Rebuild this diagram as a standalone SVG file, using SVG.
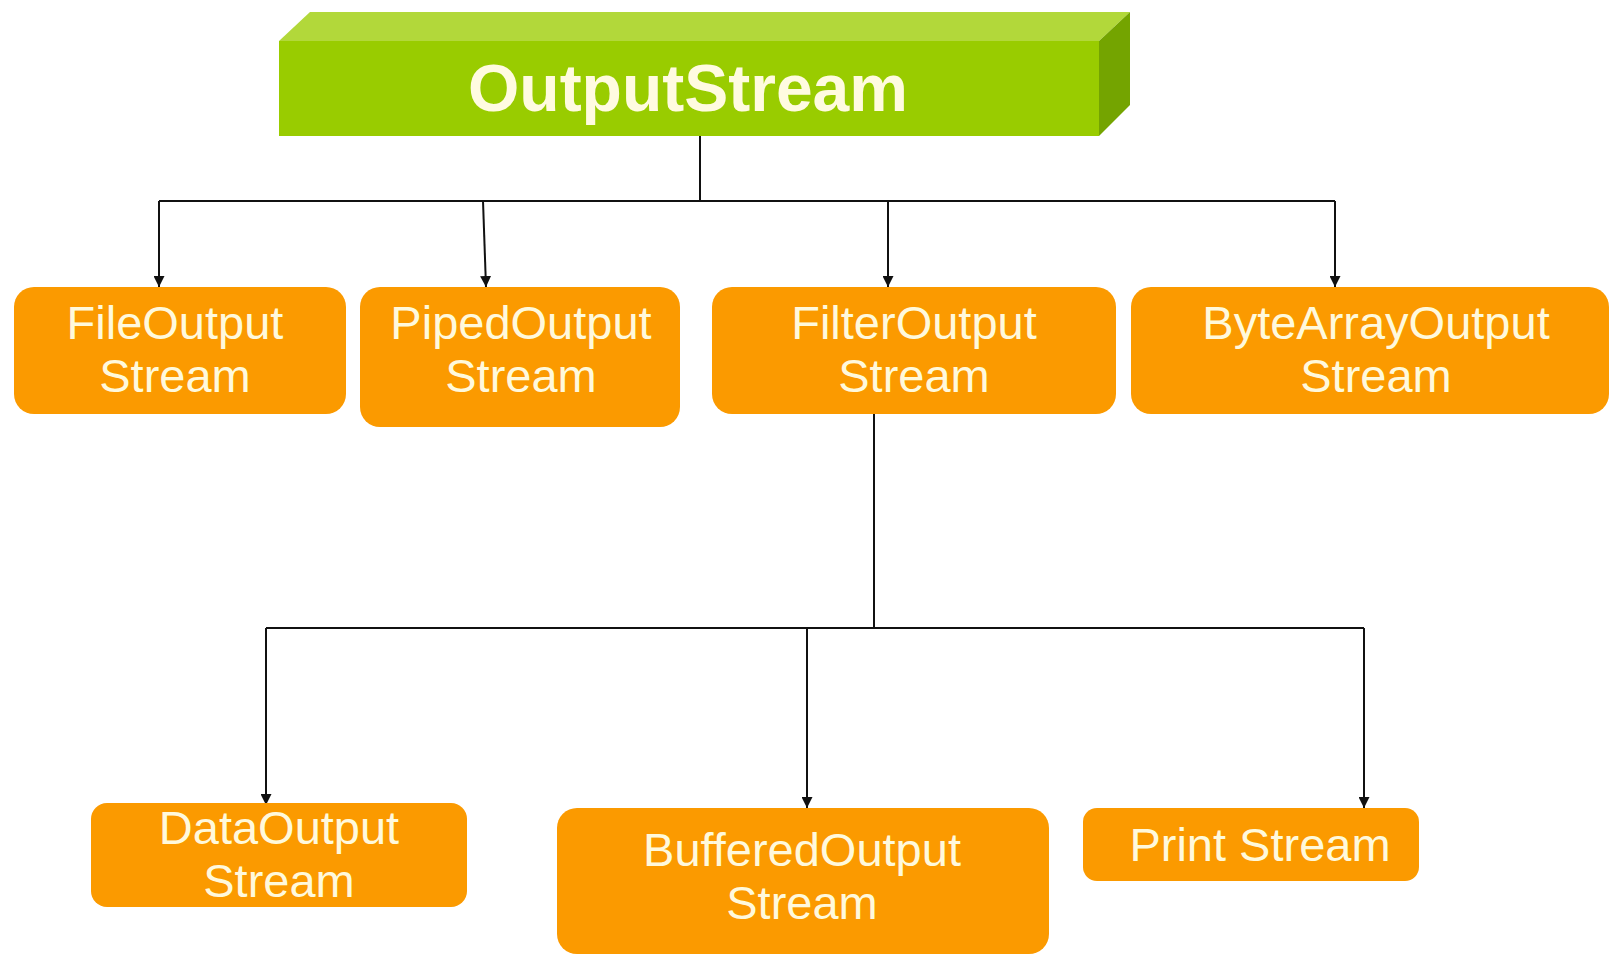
<svg xmlns="http://www.w3.org/2000/svg" width="1610" height="955" viewBox="0 0 1610 955">
<style>
.box{fill:#FB9A00}
.t{font-family:"Liberation Sans",Arial,sans-serif;font-size:47px;fill:#FFF9DC;text-anchor:middle}
.title{font-family:"Liberation Sans",Arial,sans-serif;font-size:66px;font-weight:bold;fill:#FFFBE0;text-anchor:middle}
.ln{stroke:#111;stroke-width:2;fill:none}
</style>
<defs>
<marker id="ah" markerWidth="11" markerHeight="11" refX="11" refY="5.5" orient="auto" markerUnits="userSpaceOnUse">
<path d="M0,0 L11,5.5 L0,11 Z" fill="#111"/>
</marker>
</defs>
<rect width="1610" height="955" fill="#fff"/>
<g id="connectors">
<path class="ln" d="M700,136 V201 M159,201 H1335"/>
<path class="ln" d="M159,201 V287" marker-end="url(#ah)"/>
<path class="ln" d="M483,201 L486,287" marker-end="url(#ah)"/>
<path class="ln" d="M888,201 V287" marker-end="url(#ah)"/>
<path class="ln" d="M1335,201 V287" marker-end="url(#ah)"/>
<path class="ln" d="M874,414 V628 M266,628 H1364"/>
<path class="ln" d="M266,628 V805" marker-end="url(#ah)"/>
<path class="ln" d="M807,628 V808" marker-end="url(#ah)"/>
<path class="ln" d="M1364,628 V808" marker-end="url(#ah)"/>
</g>
<g id="OutputStream">
<polygon points="279,41 310,12 1130,12 1099,41" fill="#B2D83A"/>
<polygon points="1099,41 1130,12 1130,105 1099,136" fill="#74A400"/>
<rect x="279" y="41" width="820" height="95" fill="#99CC00"/>
<text class="title" x="688" y="111">OutputStream</text>
</g>
<g id="FileOutputStream">
<rect class="box" x="14" y="287" width="332" height="127" rx="20"/>
<text class="t" x="175" y="339">FileOutput</text>
<text class="t" x="175" y="392">Stream</text>
</g>
<g id="PipedOutputStream">
<rect class="box" x="360" y="287" width="320" height="140" rx="20"/>
<text class="t" x="521" y="339">PipedOutput</text>
<text class="t" x="521" y="392">Stream</text>
</g>
<g id="FilterOutputStream">
<rect class="box" x="712" y="287" width="404" height="127" rx="20"/>
<text class="t" x="914" y="339">FilterOutput</text>
<text class="t" x="914" y="392">Stream</text>
</g>
<g id="ByteArrayOutputStream">
<rect class="box" x="1131" y="287" width="478" height="127" rx="20"/>
<text class="t" x="1376" y="339">ByteArrayOutput</text>
<text class="t" x="1376" y="392">Stream</text>
</g>
<g id="DataOutputStream">
<rect class="box" x="91" y="803" width="376" height="104" rx="16"/>
<text class="t" x="279" y="844">DataOutput</text>
<text class="t" x="279" y="897">Stream</text>
</g>
<g id="BufferedOutputStream">
<rect class="box" x="557" y="808" width="492" height="146" rx="20"/>
<text class="t" x="802" y="866">BufferedOutput</text>
<text class="t" x="802" y="919">Stream</text>
</g>
<g id="PrintStream">
<rect class="box" x="1083" y="808" width="336" height="73" rx="14"/>
<text class="t" x="1260" y="861">Print Stream</text>
</g>
</svg>
